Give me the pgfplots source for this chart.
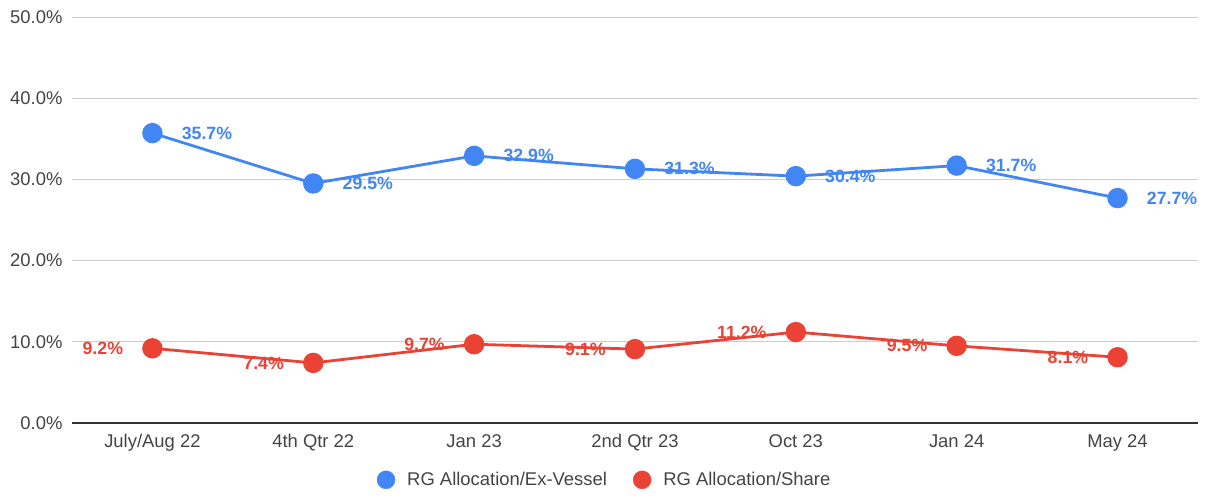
\documentclass[border=0pt]{standalone}
\usepackage{fontspec}
\setmainfont{Liberation Sans}
\usepackage{pgfplots}
\pgfplotsset{compat=1.18}
\definecolor{cblue}{HTML}{4285F4}
\definecolor{cred}{HTML}{EA4335}
\definecolor{tickgray}{HTML}{444444}
\definecolor{axisgray}{HTML}{333333}
\definecolor{gridgray}{HTML}{CCCCCC}
\begin{document}
\begin{tikzpicture}
\begin{axis}[
  at={(72bp,73bp)}, anchor=south west,
  scale only axis, width=1126bp, height=406bp,
  xmin=-0.5, xmax=6.5, ymin=0, ymax=50,
  clip=false,
  xtick={0,...,6},
  xticklabels={July/Aug 22, 4th Qtr 22, Jan 23, 2nd Qtr 23, Oct 23, Jan 24, May 24},
  ytick={0,10,...,50},
  yticklabel={\pgfmathprintnumber[fixed,fixed zerofill,precision=1]{\tick}\%},
  /pgf/number format/assume math mode=true,
  ymajorgrids, grid style={gridgray, line width=0.9bp},
  axis lines=left,
  axis line style={-},
  y axis line style={draw=none},
  x axis line style={draw=axisgray, line width=1.4bp},
  major tick length=0pt,
  tick label style={font=\fontsize{18.5}{22}\selectfont, text=tickgray},
  xticklabel style={yshift=-8bp},
  yticklabel style={xshift=-6bp},
  legend columns=2,
  legend style={draw=none, fill=none, at={(0.473,-0.14)}, anchor=center,
    font=\fontsize{18.5}{22}\selectfont, text=tickgray,
    /tikz/every even column/.append style={column sep=24bp}},
]
\addlegendimage{legend image code/.code={\fill[cblue] (0,0) circle (9bp); \path (19bp,0);}}
\addlegendentry{RG Allocation/Ex-Vessel}
\addlegendimage{legend image code/.code={\fill[cred] (0,0) circle (9bp); \path (19bp,0);}}
\addlegendentry{RG Allocation/Share}

\addplot[forget plot, cblue, line width=2.8bp, mark=*, mark size=8.8bp,
  mark options={draw=none, fill=cblue},
  nodes near coords={\pgfmathprintnumber[fixed,fixed zerofill,precision=1]{\pgfplotspointmeta}\%},
  nodes near coords style={anchor=west, inner sep=0pt, xshift=28bp, yshift=0pt,
    font=\bfseries\fontsize{17.8}{21}\selectfont, text=cblue}]
  coordinates {(0,35.7) (1,29.5) (2,32.9) (3,31.3) (4,30.4) (5,31.7) (6,27.7)};
\addplot[forget plot, cred, line width=2.8bp, mark=*, mark size=8.8bp,
  mark options={draw=none, fill=cred},
  nodes near coords={\pgfmathprintnumber[fixed,fixed zerofill,precision=1]{\pgfplotspointmeta}\%},
  nodes near coords style={anchor=east, inner sep=0pt, xshift=-28bp, yshift=0pt,
    font=\bfseries\fontsize{17.8}{21}\selectfont, text=cred}]
  coordinates {(0,9.2) (1,7.4) (2,9.7) (3,9.1) (4,11.2) (5,9.5) (6,8.1)};
\end{axis}
\pgfresetboundingbox
\path[use as bounding box] (0,0) rectangle (1205bp,496bp);
\end{tikzpicture}
\end{document}
